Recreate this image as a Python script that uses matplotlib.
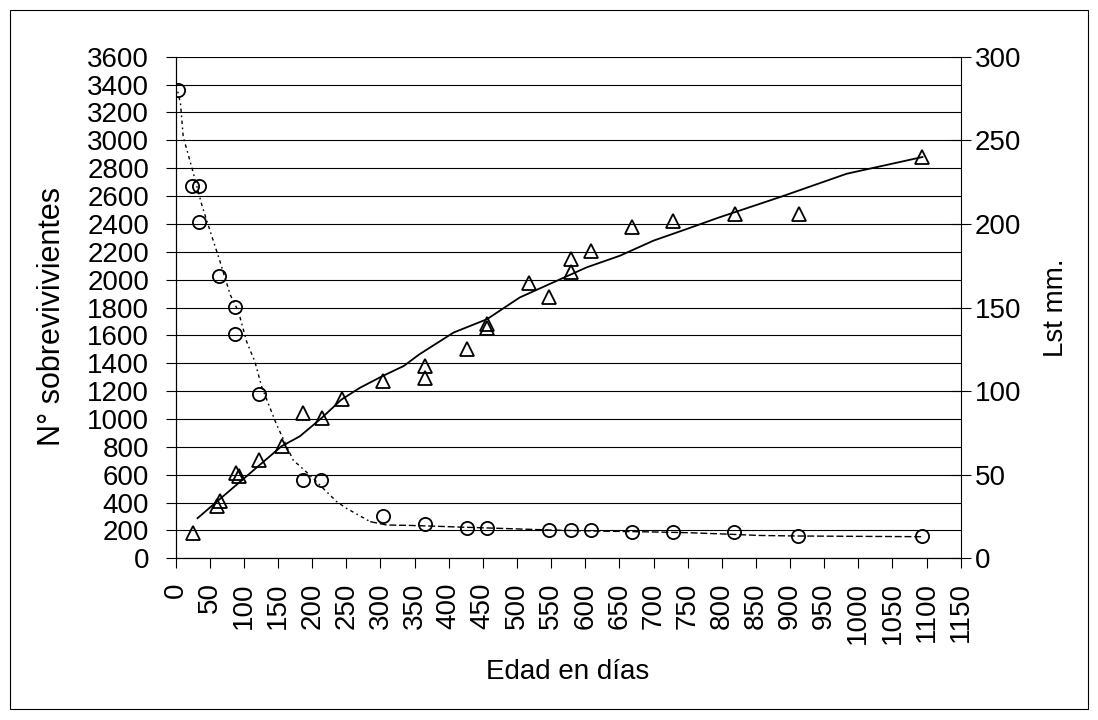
import matplotlib
matplotlib.use('Agg')
import matplotlib.pyplot as plt
from matplotlib.patches import Rectangle

plt.rcParams['font.family'] = ['Liberation Sans', 'DejaVu Sans']

# ---------------- data ----------------
# survivors (left axis)
surv_days = [3, 24, 34, 34, 64, 87, 87, 122, 186, 213, 303, 365, 427, 456,
             547, 579, 608, 669, 728, 818, 912, 1094]
surv_n = [3360, 2674, 2674, 2411, 2026, 1803, 1610, 1177, 562, 562, 304, 246,
          215, 215, 200, 200, 200, 189, 189, 190, 160, 160]

# survivors trend (left axis)
surv_trend_days = [3, 7, 11, 24, 39, 50, 65, 80, 92, 104, 116, 126, 148, 172,
                   199, 216, 236, 250, 285, 309, 343, 382, 416, 475, 548, 611,
                   700, 749, 800, 855, 912, 1094]
surv_trend_n = [3349, 3265, 3025, 2798, 2523, 2356, 2129, 1890, 1770, 1554, 1411,
                1231, 957, 705, 586, 502, 406, 359, 263, 239, 236, 230, 224, 215,
                203, 196, 189, 184, 175, 164, 160, 155]

# standard length (right axis)
lst_days = [26, 61, 65, 88, 93, 122, 155, 187, 214, 243, 303, 365, 365, 427,
            456, 456, 518, 547, 579, 579, 608, 669, 728, 820, 913, 1094]
lst_mm = [15, 31, 34, 51, 49, 59, 67, 87, 84, 95, 106, 115, 108, 125, 140, 137.5,
          164.5, 156, 179, 171.5, 184, 198, 202, 206, 206, 240]

# length trend (right axis)
lst_trend_days = [32, 155, 182, 214, 243, 270, 303, 334, 357, 407, 456, 504, 553,
                  602, 651, 700, 749, 797, 819, 885, 983, 1094]
lst_trend_mm = [24, 67, 73, 84, 95, 102, 109, 115, 122, 135, 143, 156, 165, 174,
                181, 190, 197, 204, 207, 216, 230, 240]

x_ticks = list(range(0, 1151, 50))
left_ticks = list(range(0, 3601, 200))
right_ticks = list(range(0, 301, 50))

# ---------------- figure ----------------
W, H = 1098, 720
FS = 20
fig = plt.figure(figsize=(W / 100, H / 100), dpi=100)
L, R, T, B = 175.7, 960.7, 56.7, 558.3
ax = fig.add_axes([L / W, 1 - B / H, (R - L) / W, (B - T) / H])
ax2 = ax.twinx()

ax.set_xlim(0, 1150)
ax.set_ylim(0, 3600)
ax2.set_ylim(0, 300)

ax.set_xticks(x_ticks)
ax.set_xticklabels([str(v) for v in x_ticks], rotation=90, fontsize=FS)
ax.set_yticks(left_ticks)
ax.set_yticklabels([str(v) for v in left_ticks], fontsize=FS)
ax2.set_yticks(right_ticks)
ax2.set_yticklabels([str(v) for v in right_ticks], fontsize=FS)

ax.yaxis.grid(True, color='black', lw=0.8)
ax.set_axisbelow(True)

ax.tick_params(axis='y', direction='out', length=7.2, width=0.8, pad=12)
ax.tick_params(axis='x', direction='out', length=7.2, width=0.8, pad=10)
ax2.tick_params(axis='y', direction='inout', length=14.4, width=0.8, pad=3)

for a in (ax, ax2):
    a.spines['top'].set_visible(False)
    for s in ('left', 'right', 'bottom'):
        a.spines[s].set_linewidth(0.8)
ax.spines['right'].set_visible(False)

# survivors trend: dotted in steep part, dashed in flat part
k = 18
ax.plot(surv_trend_days[:k + 1], surv_trend_n[:k + 1], color='black', lw=1.0,
        linestyle=(0, (1.2, 2.5, 2.5, 2.5)), zorder=3)
ax.plot(surv_trend_days[k:], surv_trend_n[k:], color='black', lw=1.0,
        linestyle=(0, (5, 2)), zorder=3)
ax.plot(surv_days, surv_n, linestyle='none', marker='o', ms=9.5, mfc='none',
        mec='black', mew=1.3, zorder=4)

ax2.plot(lst_trend_days, lst_trend_mm, color='black', lw=1.3, zorder=3)
ax2.plot(lst_days, lst_mm, linestyle='none', marker='^', ms=9.5, mfc='none',
         mec='black', mew=1.3, zorder=4)

fig.text(52 / W, 1 - 317 / H, 'N° sobrevivivientes', rotation=90, fontsize=22,
         ha='center', va='center')
fig.text(1056 / W, 1 - 308 / H, 'Lst mm.', rotation=90, fontsize=FS,
         ha='center', va='center')
fig.text(568 / W, 1 - 672 / H, 'Edad en días', fontsize=FS,
         ha='center', va='center')

fig.patches.append(Rectangle((10 / W, 1 - 709 / H), (1088 - 10) / W, (709 - 10) / H,
                             transform=fig.transFigure, fill=False, lw=0.8,
                             ec='black'))

fig.savefig('out.png', dpi=100)
